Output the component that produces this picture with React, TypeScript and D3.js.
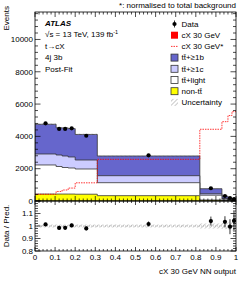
import React from "react";
import * as d3 from "d3";

const binEdges = [0, 0.105, 0.135, 0.165, 0.2, 0.31, 0.82, 0.93, 0.96, 0.98, 1.0];
const nonTT = [430, 430, 430, 430, 420, 330, 60, 20, 12, 8];
const ttLight = [1800, 1705, 1643, 1613, 1561, 803, 300, 90, 55, 35];
const tt1c = [680, 712, 712, 681, 557, 433, 90, 40, 24, 15];
const tt1b = [1840, 1683, 1740, 1756, 1582, 1219, 310, 150, 95, 62];
const dataVals = [4810, 4460, 4460, 4500, 4040, 2830, 790, 310, 185, 125];
const signalNorm = [415, 590, 680, 800, 1125, 2580, 4440, 4910, 5290, 5530];
const relUnc = [0.012, 0.012, 0.012, 0.012, 0.012, 0.012, 0.02, 0.025, 0.03, 0.035];
const ratioErr = [0.012, 0.015, 0.015, 0.015, 0.016, 0.02, 0.036, 0.045, 0.06, 0.075];
const yTicks = [0, 2000, 4000, 6000, 8000, 10000];
const ratioTicks = [0.8, 0.9, 1, 1.1];
const xTicks = [0, 0.1, 0.2, 0.3, 0.4, 0.5, 0.6, 0.7, 0.8, 0.9, 1];

const W = 249, H = 281;
const L = 35, R = 236, T = 12, MB = 201, RB = 251;
const FONT = "'Liberation Sans', Arial, Helvetica, sans-serif";

export default function App() {
  const x = d3.scaleLinear().domain([0, 1]).range([L, R]);
  const y = d3.scaleLinear().domain([0, 11700]).range([MB, T]);
  const yr = d3.scaleLinear().domain([0.8, 1.2]).range([RB, MB]);
  const nb = binEdges.length - 1;
  const bins = d3.range(nb);

  const layers = [nonTT, ttLight, tt1c, tt1b];
  const cum: number[][] = [];
  let acc = bins.map(() => 0);
  layers.forEach((l) => {
    acc = acc.map((a, i) => a + l[i]);
    cum.push(acc.slice());
  });
  const total = cum[3];
  const fills = ["#ffff00", "#ffffff", "#ccccff", "#6666cc"];

  const histPath = (vals: number[], ys: any, base: number) => {
    let p = `M${x(binEdges[0])},${ys(base)}`;
    bins.forEach((i) => {
      p += `L${x(binEdges[i])},${ys(vals[i])}L${x(binEdges[i + 1])},${ys(vals[i])}`;
    });
    p += `L${x(binEdges[nb])},${ys(base)}Z`;
    return p;
  };
  const stepLine = (vals: number[], ys: any) => {
    let p = "";
    bins.forEach((i) => {
      p += `${i === 0 ? "M" : "L"}${x(binEdges[i])},${ys(vals[i])}L${x(binEdges[i + 1])},${ys(vals[i])}`;
    });
    return p;
  };

  const minorY = d3.range(0, 11700, 400);
  const minorX = d3.range(0, 1.0001, 0.02);
  const minorR = d3.range(0.8, 1.2001, 0.02);

  const legendRows = [
    { label: "Data", type: "data" },
    { label: "cX 30 GeV", type: "sig" },
    { label: "cX 30 GeV*", type: "dash" },
    { label: "tt\u0304+\u22651b", type: "box", fill: "#6666cc" },
    { label: "tt\u0304+\u22651c", type: "box", fill: "#ccccff" },
    { label: "tt\u0304+light", type: "box", fill: "#ffffff" },
    { label: "non-tt\u0304", type: "box", fill: "#ffff00" },
    { label: "Uncertainty", type: "unc" },
  ];

  return (
    <svg width={W} height={H} style={{ position: "absolute", left: 0, top: 0, fontFamily: FONT }}>
      <defs>
        <pattern id="hatch" width="3" height="3" patternUnits="userSpaceOnUse" patternTransform="rotate(45)">
          <line x1="0" y1="0" x2="0" y2="3" stroke="#888" strokeWidth="0.9" />
        </pattern>
        <clipPath id="mainClip"><rect x={L} y={T} width={R - L} height={MB - T} /></clipPath>
        <clipPath id="ratioClip"><rect x={L} y={MB} width={R - L} height={RB - MB} /></clipPath>
      </defs>
      <rect width={W} height={H} fill="#fff" />

      {/* main stack */}
      <g clipPath="url(#mainClip)">
        {[3, 2, 1, 0].map((k) => (
          <path key={k} d={histPath(cum[k], y, 0)} fill={fills[k]} stroke="#333" strokeWidth={0.8} />
        ))}
        {bins.map((i) => (
          <rect key={i} x={x(binEdges[i])} width={x(binEdges[i + 1]) - x(binEdges[i])}
            y={y(total[i] * (1 + relUnc[i]))} height={y(total[i] * (1 - relUnc[i])) - y(total[i] * (1 + relUnc[i]))}
            fill="url(#hatch)" />
        ))}
        <path d={stepLine(signalNorm, y)} fill="none" stroke="#ff0000" strokeWidth={0.8} strokeDasharray="1.5,1" />
        {bins.map((i) => {
          const cx = x((binEdges[i] + binEdges[i + 1]) / 2);
          const e = Math.sqrt(dataVals[i]);
          return (
            <g key={i}>
              <line x1={cx} x2={cx} y1={y(dataVals[i] - e)} y2={y(dataVals[i] + e)} stroke="#000" strokeWidth={0.8} />
              <circle cx={cx} cy={y(dataVals[i])} r={2.1} fill="#000" />
            </g>
          );
        })}
      </g>

      {/* ratio */}
      <g clipPath="url(#ratioClip)">
        {bins.map((i) => (
          <rect key={i} x={x(binEdges[i])} width={x(binEdges[i + 1]) - x(binEdges[i])}
            y={yr(1 + relUnc[i])} height={yr(1 - relUnc[i]) - yr(1 + relUnc[i])} fill="url(#hatch)" />
        ))}
        <line x1={L} x2={R} y1={yr(1)} y2={yr(1)} stroke="#999" strokeWidth={0.6} strokeDasharray="1,1" />
        {bins.map((i) => {
          const cx = x((binEdges[i] + binEdges[i + 1]) / 2);
          const r = dataVals[i] / total[i];
          return (
            <g key={i}>
              <line x1={cx} x2={cx} y1={yr(r - ratioErr[i])} y2={yr(r + ratioErr[i])} stroke="#000" strokeWidth={0.8} />
              <circle cx={cx} cy={yr(r)} r={2.1} fill="#000" />
            </g>
          );
        })}
      </g>

      {/* frames */}
      <rect x={L} y={T} width={R - L} height={MB - T} fill="none" stroke="#000" strokeWidth={0.8} />
      <rect x={L} y={MB} width={R - L} height={RB - MB} fill="none" stroke="#000" strokeWidth={0.8} />

      {/* main y ticks */}
      {minorY.map((v) => {
        const major = v % 2000 === 0;
        const len = major ? 5.5 : 3;
        return (
          <g key={v} stroke="#000" strokeWidth={0.7}>
            <line x1={L} x2={L + len} y1={y(v)} y2={y(v)} />
            <line x1={R} x2={R - len} y1={y(v)} y2={y(v)} />
          </g>
        );
      })}
      {yTicks.map((v) => (
        <text key={v} x={L - 2} y={y(v)} dy="0.35em" textAnchor="end" fontSize={8}>{v}</text>
      ))}
      {/* x ticks main & ratio */}
      {minorX.map((v, j) => {
        const major = j % 5 === 0;
        const len = major ? 5 : 2.5;
        return (
          <g key={j} stroke="#000" strokeWidth={0.7}>
            <line x1={x(v)} x2={x(v)} y1={T} y2={T + len} />
            <line x1={x(v)} x2={x(v)} y1={MB} y2={MB - len} />
            <line x1={x(v)} x2={x(v)} y1={MB} y2={MB + len * 0.8} />
            <line x1={x(v)} x2={x(v)} y1={RB} y2={RB - len * 0.8} />
          </g>
        );
      })}
      {minorR.map((v, j) => {
        const major = j % 5 === 0;
        const len = major ? 5.5 : 3;
        return (
          <g key={j} stroke="#000" strokeWidth={0.7}>
            <line x1={L} x2={L + len} y1={yr(v)} y2={yr(v)} />
            <line x1={R} x2={R - len} y1={yr(v)} y2={yr(v)} />
          </g>
        );
      })}
      {ratioTicks.map((v) => (
        <text key={v} x={L - 2} y={yr(v)} dy="0.35em" textAnchor="end" fontSize={8}>{String(v)}</text>
      ))}
      {xTicks.map((v) => (
        <text key={v} x={x(v)} y={259.5} textAnchor="middle" fontSize={8}>{String(v)}</text>
      ))}

      {/* axis titles */}
      <text transform={`translate(8.5,${T - 6}) rotate(-90)`} textAnchor="end" fontSize={8}>Events</text>
      <text transform={`translate(8.5,226) rotate(-90)`} textAnchor="middle" fontSize={8}>Data / Pred.</text>
      <text x={R} y={274} textAnchor="end" fontSize={8}>cX 30 GeV NN output</text>
      <text x={R} y={8} textAnchor="end" fontSize={8}>*: normalised to total background</text>

      {/* labels */}
      <text x={45} y={26} fontSize={8} fontWeight="bold" fontStyle="italic">ATLAS</text>
      <text x={45} y={37} fontSize={8}>√s = 13 TeV, 139 fb<tspan dy={-3} fontSize={5.5}>-1</tspan></text>
      <text x={45} y={48.5} fontSize={8}>t→cX</text>
      <text x={45} y={60} fontSize={8}>4j 3b</text>
      <text x={45} y={71.5} fontSize={8}>Post-Fit</text>

      {/* legend */}
      {legendRows.map((r, i) => {
        const cy = 24 + i * 11.2;
        const bx = 171, bw = 7;
        return (
          <g key={i}>
            {r.type === "data" && (
              <g>
                <line x1={bx + bw / 2} x2={bx + bw / 2} y1={cy - 3.5} y2={cy + 3.5} stroke="#000" strokeWidth={0.8} />
                <circle cx={bx + bw / 2} cy={cy} r={2.1} fill="#000" />
              </g>
            )}
            {r.type === "sig" && <rect x={bx} y={cy - 3.5} width={bw} height={7} fill="#ff0000" />}
            {r.type === "dash" && (
              <line x1={bx} x2={bx + bw} y1={cy} y2={cy} stroke="#ff0000" strokeWidth={0.8} strokeDasharray="1.5,1" />
            )}
            {r.type === "box" && (
              <rect x={bx} y={cy - 3.5} width={bw} height={7} fill={r.fill} stroke="#333" strokeWidth={0.8} />
            )}
            {r.type === "unc" && <rect x={bx} y={cy - 3.5} width={bw} height={7} fill="url(#hatch)" />}
            <text x={181.5} y={cy} dy="0.35em" fontSize={8}>{r.label}</text>
          </g>
        );
      })}
    </svg>
  );
}
